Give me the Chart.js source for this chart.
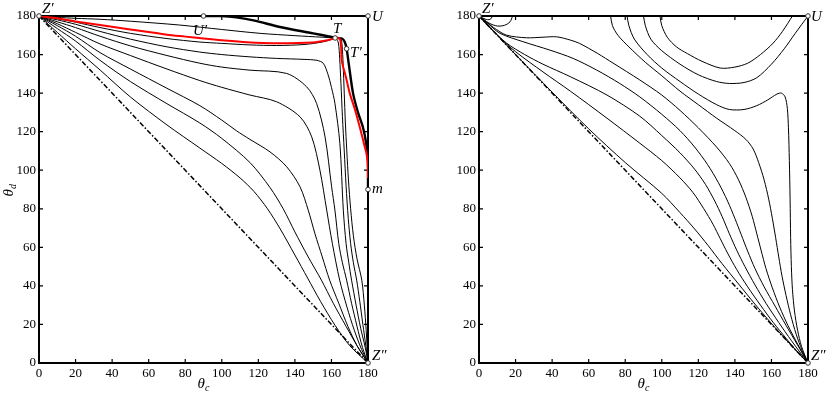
<!DOCTYPE html>
<html>
<head>
<meta charset="utf-8">
<script src="https://cdn.jsdelivr.net/npm/chart.js@4.4.1/dist/chart.umd.min.js"></script>
<style>
  body { margin: 0; background: #fff; width: 830px; height: 396px; position: relative; overflow: hidden; }
  canvas { position: absolute; top: 0; }
  #esq { left: 0; }
  #dir { left: 440px; }
</style>
</head>
<body>
<canvas id="esq" width="390" height="396"></canvas>
<canvas id="dir" width="390" height="396"></canvas>
<script>
// ================= DADOS =================
const marcas = [0, 20, 40, 60, 80, 100, 120, 140, 160, 180];
const diagonal = [[0, 180], [180, 0]];

// painel esquerdo
const esqL1 = [[0,180],[10,171.5],[20,163],[33.4,152],[50,138],[70,123.5],[88,111.5],[100,103.5],[110,96],[117.6,89],[125,80],[132,69.5],[140,56],[147,44],[154,32],[162,19.5],[170,9],[180,0]];
const esqL2 = [[0,180],[10,173.5],[20,167],[33.4,157],[50,146],[70,134.5],[88,124.5],[100,116.5],[115.4,104],[126.4,91],[133.6,80],[140,68],[147,55.5],[154.5,43],[161,31],[168,19],[174,9],[180,0]];
const esqL3 = [[0,180],[10,175],[20,169.5],[33.4,161],[50,152.5],[70,142.5],[88,133.5],[100,126],[108,120.5],[115.4,116],[126.4,109.5],[135.5,101.8],[142.8,91.4],[147.3,79.3],[151,67],[155,55],[159,43],[164,31],[169,19],[174,9],[180,0]];
const esqL4 = [[0,180],[10,176],[20,171.5],[33.4,165.5],[50,159.5],[70,152.5],[88,146.5],[100,143],[115.4,139],[130,135.5],[142.8,127.7],[149.2,117.3],[153.7,100],[157.4,79.3],[160.5,62],[164.5,43],[168.5,29],[172.5,17],[176.5,7],[180,0]];
const esqL5 = [[0,180],[10,177],[20,174],[33.4,169.5],[50,164.5],[70,159.5],[88,155.5],[100,153.5],[115.4,151.9],[135.5,150.2],[146.4,143.3],[151.9,134.6],[156.5,117.3],[160.1,91.4],[161.9,79.3],[164,62],[166,52],[168.3,43],[171,31],[174,19],[177,8],[180,0]];
const esqL6 = [[0,180],[10,178],[20,175.7],[33.4,172],[50,168],[70,164],[88,161.3],[100,160],[115.4,158.8],[130,158],[145,157.5],[152,157],[155.5,155.5],[158,150],[160,143],[161.9,134.7],[164.6,114],[166.5,79.3],[168,62],[169.5,52],[171,43],[173.5,30],[176,18],[178.5,8],[180,0]];
const esqL7 = [[0,180],[10,178.6],[20,176.8],[33.4,174],[50,171],[70,168.3],[88,166.5],[100,165.8],[115.4,165],[130,164.7],[145,165.2],[155,166.5],[160,167.8],[162.5,168.2],[163.8,166],[164.5,158],[165.2,145],[166,128],[167,110],[168,92],[169.2,75],[170.5,62],[172,52],[173.8,43],[175.5,32],[177.2,20],[178.8,9],[180,0]];
const esqFino = [[0,180],[10,179.3],[20,178.8],[33.4,178.3],[50,177.3],[77,175.3],[100,173],[121,171],[140,169.8],[155,169],[162,168.7],[165,168.4],[165.8,165],[166.4,155],[167,140],[167.6,125],[168.4,110],[169.3,95],[170.5,80],[172,66],[174,54],[176.6,43],[178,30],[179,17],[180,0]];
const esqVermelho = [[0,180],[10,178.8],[20,177.2],[33.4,175.3],[50,173],[70,170.3],[80,169.3],[90,168.3],[100,167.4],[113.8,166.4],[130,165.9],[150,166.3],[157,167.3],[162,168.5],[164.5,168.3],[165.3,164],[165.6,157],[168,148],[170,140],[173,131],[175.6,122],[178,113],[179.3,108],[180,101],[180,96]];
const esqGrosso = [[90,180],[100,180],[108,179.3],[118,177.6],[131.8,174.3],[150,171],[158,169.5],[163,168.6],[166,168.2],[167.3,166.5],[168.3,163],[169.5,155],[171.8,140],[174.5,130],[177.2,122.4],[179,114],[180,105],[180,90]];
const esqPontos = [[0,180],[90,180],[180,180],[162,168.6],[168.3,163],[180,90],[180,0]];

// painel direito
const dirR1 = [[0,180],[4,177],[8,174],[15,170.1],[26,168.7],[35,169],[42.5,169.2],[50,167.5],[55,165.8],[65,160.5],[73.3,155.6],[88,146.8],[100,139],[110,131],[120,122],[130,112],[137,103.5],[142,95],[146,86],[149.5,76],[152,67],[154.3,58.6],[157,49],[160.5,39],[164.5,29],[169,19.5],[174.5,9.5],[180,0]];
const dirR2 = [[0,180],[5,176],[11.5,171],[24,166.7],[38.8,162.3],[51.5,158],[64.3,152],[77,145],[88,138],[100,129],[110,120.5],[118,112],[125,103],[131,93.5],[136,84],[140,75],[143.5,66.5],[147,58],[151,49],[156,39.5],[162,29.5],[168,19.5],[174,9.8],[180,0]];
const dirR3 = [[0,180],[6,174],[15,166],[25,160],[35,155],[50,148.5],[70,139],[88,128],[100,118],[110,109],[118,100.5],[124,92.5],[129,84],[133,76],[137,67],[141,58.5],[145.5,50],[151,40.5],[157,31],[164,21],[171,11.5],[180,0]];
const dirR4 = [[0,180],[10,170],[20,161.5],[35,151],[50,141],[70,127],[88,114],[100,105],[110,96],[117,88.5],[123,80],[128,72],[132,64.5],[136,57],[141,48.5],[147,39.5],[154,30],[161,21],[168,12.8],[174,6],[180,0]];
const dirR5 = [[0,180],[10,170],[20,160],[40,140.5],[60,121.5],[80,104],[100,88],[110,78],[118,69.5],[125.3,61],[133,51.5],[142,41],[151,30.5],[160,20.5],[170,10],[180,0]];
const dirTopo1 = [[72,180],[73,175],[76,170],[82,164],[91,156],[100,149],[110,141],[120,134],[130,127],[140,120.5],[146,116],[150,111],[153,104],[156,95],[158.5,85],[160.5,75],[162.3,65],[164,55],[165.8,45],[168,35],[170.5,25],[173.5,15],[176.8,6.5],[180,0]];
const dirTopo2 = [[81,180],[82,175],[85,168],[92,160],[100,153],[110,146],[120,139.5],[130,134],[137,131.5],[145,131.5],[152,133.5],[158,136.5],[163,139.5],[165.5,140],[167.5,138],[168.7,132],[169.3,122],[169.8,105],[170.2,85],[170.5,65],[170.9,50],[171.5,38],[172.6,27],[174.3,17],[176.5,8.5],[180,0]];
const dirTopo3 = [[90,180],[91,175],[94,168],[100,162],[110,155],[120,149.5],[130,146],[137,145],[145,145.5],[152,148],[160,155],[167,163],[173,171],[180,180]];
const dirTopo4 = [[99,180],[100,175],[103,169],[108,164],[114,160.5],[122,156.5],[132,153],[140,153.5],[147,155.5],[154,160],[161,166],[166,172],[171.5,180]];
const dirLaco1 = [[0,180],[3.3,178.4],[6,178.2],[7.5,180]];
const dirLaco2 = [[0,180],[5.5,176.3],[10,174.8],[14,175.2],[17,177],[18.4,180]];
const dirPontos = [[0,180],[180,180],[180,0]];

// ================= AUXILIARES =================
const serif = "'Liberation Serif', 'DejaVu Serif', serif";

function pts(lista) {
  return lista.map(p => ({ x: p[0], y: p[1] }));
}

function linha(lista, cor, largura, tracejado) {
  return {
    data: pts(lista),
    showLine: true,
    borderColor: cor,
    borderWidth: largura,
    borderDash: tracejado || [],
    pointRadius: 0,
    tension: 0.3,
    fill: false
  };
}

function pontos(lista) {
  return {
    data: pts(lista),
    showLine: false,
    pointRadius: 2.3,
    pointBackgroundColor: '#fff',
    pointBorderColor: '#333',
    pointBorderWidth: 1,
    clip: false
  };
}

// moldura com marcas para dentro + rótulos em itálico
const moldura = {
  id: 'moldura',
  beforeDatasetsDraw(chart) {
    const { ctx, chartArea: a, scales: { x, y } } = chart;
    ctx.save();
    ctx.strokeStyle = '#000';
    ctx.lineWidth = 1.2;
    ctx.beginPath();
    marcas.forEach(v => {
      const px = x.getPixelForValue(v), py = y.getPixelForValue(v);
      ctx.moveTo(px, a.bottom); ctx.lineTo(px, a.bottom - 4);
      ctx.moveTo(px, a.top); ctx.lineTo(px, a.top + 4);
      ctx.moveTo(a.left, py); ctx.lineTo(a.left + 4, py);
      ctx.moveTo(a.right, py); ctx.lineTo(a.right - 4, py);
    });
    ctx.stroke();
    ctx.lineWidth = 2;
    ctx.strokeRect(a.left, a.top, a.right - a.left, a.bottom - a.top);
    ctx.restore();
  },
  afterDraw(chart, args, opts) {
    const { ctx, scales: { x, y } } = chart;
    ctx.save();
    ctx.fillStyle = '#000';
    ctx.textBaseline = 'alphabetic';
    ctx.font = 'italic 15px ' + serif;
    (opts.rotulos || []).forEach(r => {
      ctx.fillText(r.t, x.getPixelForValue(r.x) + r.dx, y.getPixelForValue(r.y) + r.dy);
    });
    // θc
    const cx = x.getPixelForValue(90) - 6;
    ctx.font = 'italic 15px ' + serif;
    ctx.fillText('θ', cx, 388);
    ctx.font = 'italic 10px ' + serif;
    ctx.fillText('c', cx + 7.5, 391);
    // θd
    if (opts.titY) {
      ctx.translate(13, y.getPixelForValue(90) + 7);
      ctx.rotate(-Math.PI / 2);
      ctx.font = 'italic 15px ' + serif;
      ctx.fillText('θ', 0, 0);
      ctx.font = 'italic 10px ' + serif;
      ctx.fillText('d', 7.5, 3);
    }
    ctx.restore();
  }
};

function eixos() {
  const base = {
    type: 'linear', min: 0, max: 180,
    grid: { display: false, drawTicks: false },
    border: { display: false },
    ticks: { stepSize: 20, color: '#000', font: { family: serif, size: 13 }, padding: 3, maxRotation: 0 }
  };
  return {
    x: { ...base, afterFit(s) { s.height = 33; } },
    y: { ...base, afterFit(s) { s.width = 39; } }
  };
}

function criarGrafico(id, datasets, rotulos, titY) {
  new Chart(document.getElementById(id), {
    type: 'scatter',
    data: { datasets },
    options: {
      responsive: false,
      animation: false,
      layout: { padding: { top: 16, right: 22, left: 0, bottom: 0 } },
      scales: eixos(),
      plugins: {
        legend: { display: false },
        tooltip: { enabled: false },
        moldura: { rotulos, titY }
      }
    },
    plugins: [moldura]
  });
}

// ================= PAINEL ESQUERDO =================
criarGrafico('esq', [
  pontos(esqPontos),
  linha(esqVermelho, '#ff0000', 2),
  linha(esqGrosso, '#000', 2.4),
  linha(esqFino, '#000', 1),
  linha(esqL7, '#000', 1),
  linha(esqL6, '#000', 1),
  linha(esqL5, '#000', 1),
  linha(esqL4, '#000', 1),
  linha(esqL3, '#000', 1),
  linha(esqL2, '#000', 1),
  linha(esqL1, '#000', 1),
  linha(diagonal, '#000', 1.5, [5, 2, 1.5, 2])
], [
  { t: 'Z′', x: 0, y: 180, dx: 3, dy: -3 },
  { t: 'U′', x: 90, y: 180, dx: -10.5, dy: 19 },
  { t: 'T', x: 162, y: 168.6, dx: -2, dy: -5 },
  { t: 'T′', x: 168.3, y: 163, dx: 3.5, dy: 8 },
  { t: 'U', x: 180, y: 180, dx: 4, dy: 5 },
  { t: 'm', x: 180, y: 90, dx: 4, dy: 3 },
  { t: 'Z″', x: 180, y: 0, dx: 4, dy: -3 }
], true);

// ================= PAINEL DIREITO =================
criarGrafico('dir', [
  pontos(dirPontos),
  linha(dirLaco1, '#000', 1),
  linha(dirLaco2, '#000', 1),
  linha(dirTopo4, '#000', 1),
  linha(dirTopo3, '#000', 1),
  linha(dirTopo2, '#000', 1),
  linha(dirTopo1, '#000', 1),
  linha(dirR1, '#000', 1),
  linha(dirR2, '#000', 1),
  linha(dirR3, '#000', 1),
  linha(dirR4, '#000', 1),
  linha(dirR5, '#000', 1),
  linha(diagonal, '#000', 1.5, [5, 2, 1.5, 2])
], [
  { t: 'Z′', x: 0, y: 180, dx: 3, dy: -3 },
  { t: 'U', x: 180, y: 180, dx: 3, dy: 5 },
  { t: 'Z″', x: 180, y: 0, dx: 3, dy: -3 }
], false);
</script>
</body>
</html>
